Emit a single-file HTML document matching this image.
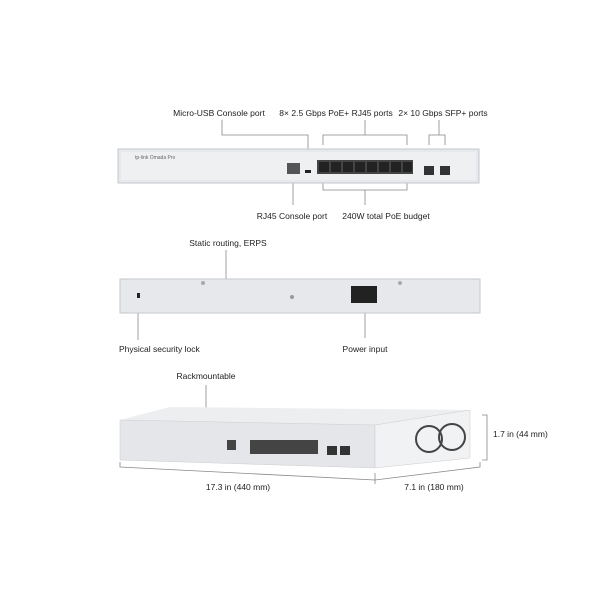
<!DOCTYPE html><html><head><style>body{margin:0;background:#fff}svg{display:block}text{font-family:"Liberation Sans",sans-serif;font-size:8.5px;fill:#222}</style></head><body>
<svg width="600" height="600" viewBox="0 0 600 600">
<g fill="none" stroke="#888" stroke-width="0.8">
<path d="M222 120V135H308V157"/><path d="M323 145V135H407V145M365 135V120"/><path d="M429 145V135H445V145M439 135V120"/>
<path d="M293 175V205"/><path d="M323 180V190H407V180M365 190V205"/>
<path d="M226 250V280"/><path d="M138 313V340"/><path d="M365 313V338"/>
<path d="M206 385V410"/>
<path d="M120 462V467L375 480L480 467V462"/><path d="M375 473V484"/>
<path d="M482 415H487V460H482"/>
</g>
<text x="219" y="116" text-anchor="middle">Micro-USB Console port</text>
<text x="336" y="116" text-anchor="middle">8× 2.5 Gbps PoE+ RJ45 ports</text>
<text x="443" y="116" text-anchor="middle">2× 10 Gbps SFP+ ports</text>
<text x="292" y="219" text-anchor="middle">RJ45 Console port</text>
<text x="386" y="219" text-anchor="middle">240W total PoE budget</text>
<text x="228" y="246" text-anchor="middle">Static routing, ERPS</text>
<text x="119" y="352">Physical security lock</text>
<text x="365" y="352" text-anchor="middle">Power input</text>
<text x="206" y="379" text-anchor="middle">Rackmountable</text>
<text x="238" y="490" text-anchor="middle">17.3 in (440 mm)</text>
<text x="434" y="490" text-anchor="middle">7.1 in (180 mm)</text>
<text x="493" y="437">1.7 in (44 mm)</text>
<rect x="118" y="149" width="361" height="34" fill="#e6e8eb" stroke="#c4c7cc"/>
<rect x="121" y="152" width="355" height="28" fill="#eef0f2"/>
<rect x="317" y="160" width="96" height="14" fill="#444" />
<g fill="#222"><rect x="319" y="162" width="10" height="10"/><rect x="331" y="162" width="10" height="10"/><rect x="343" y="162" width="10" height="10"/><rect x="355" y="162" width="10" height="10"/><rect x="367" y="162" width="10" height="10"/><rect x="379" y="162" width="10" height="10"/><rect x="391" y="162" width="10" height="10"/><rect x="403" y="162" width="9" height="10"/></g>
<rect x="287" y="163" width="13" height="11" fill="#555"/><rect x="305" y="170" width="6" height="3" fill="#222"/>
<rect x="424" y="166" width="10" height="9" fill="#333"/><rect x="440" y="166" width="10" height="9" fill="#333"/>
<text x="135" y="159" style="font-size:5px;fill:#666">tp-link  Omada Pro</text>
<rect x="120" y="279" width="360" height="34" fill="#e6e8eb" stroke="#c4c7cc"/>
<rect x="351" y="286" width="26" height="17" fill="#222"/>
<rect x="137" y="293" width="3" height="5" fill="#222"/>
<circle cx="203" cy="283" r="2" fill="#aaa"/><circle cx="400" cy="283" r="2" fill="#aaa"/><circle cx="292" cy="297" r="2" fill="#999"/>
<polygon points="120,420 170,407 470,410 375,425" fill="#eceef0"/>
<polygon points="120,420 375,425 375,468 120,460" fill="#e4e6e9" stroke="#ccc" stroke-width="0.5"/>
<polygon points="375,425 470,410 470,458 375,468" fill="#f1f2f4" stroke="#ccc" stroke-width="0.5"/>
<rect x="250" y="440" width="68" height="14" fill="#444"/>
<rect x="227" y="440" width="9" height="10" fill="#444"/>
<rect x="327" y="446" width="10" height="9" fill="#333"/><rect x="340" y="446" width="10" height="9" fill="#333"/>
<g fill="none" stroke="#444" stroke-width="2"><circle cx="429" cy="439" r="13"/><circle cx="452" cy="437" r="13"/></g>
</svg></body></html>
